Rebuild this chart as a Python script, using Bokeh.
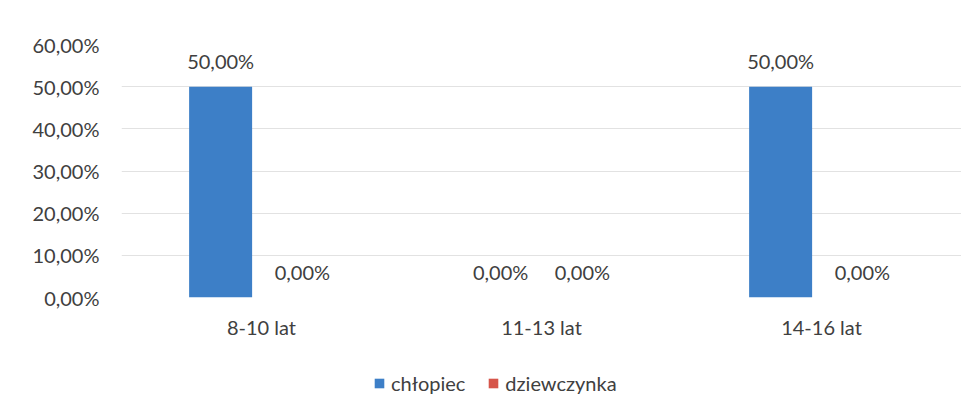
from bokeh.plotting import figure
from bokeh.layouts import column
from bokeh.models import ColumnDataSource, FactorRange, FixedTicker, Legend, LegendItem, Range1d
from bokeh.transform import dodge
from bokeh.core.properties import value
from bokeh.embed import file_html
from bokeh.resources import INLINE

categories = ["8-10 lat", "11-13 lat", "14-16 lat"]
chlopiec = [50.0, 0.0, 50.0]
dziewczynka = [0.0, 0.0, 0.0]
y_ticks = [0, 10, 20, 30, 40, 50, 60]
series_names = ["chłopiec", "dziewczynka"]

def fmt(v):
    return f"{v:.2f}".replace(".", ",") + "%"

src = ColumnDataSource(dict(
    cat=categories,
    ch=chlopiec,
    dz=dziewczynka,
    ch_lbl=[fmt(v) for v in chlopiec],
    dz_lbl=[fmt(v) for v in dziewczynka],
))

FONT = "Lato"
TXT = "#404040"
BLUE = "#3d7fc7"
RED = "#d6554a"
FS = "20px"

p = figure(x_range=FactorRange(*categories), y_range=Range1d(0, 60),
           frame_width=840, frame_height=253,
           output_backend="svg", toolbar_location=None,
           min_border_left=121, min_border_right=0, min_border_top=44, min_border_bottom=50)

p.vbar(x=dodge("cat", -0.146, range=p.x_range), top="ch", width=0.225, source=src,
       fill_color=BLUE, line_color=None)
p.vbar(x=dodge("cat", 0.146, range=p.x_range), top="dz", width=0.225, source=src,
       fill_color=RED, line_color=None)

for col, lbl, off in (("ch", "ch_lbl", -0.146), ("dz", "dz_lbl", 0.146)):
    p.text(x=dodge("cat", off, range=p.x_range), y=col, text=lbl, source=src,
           text_font=value(FONT), text_font_size=FS, text_color=TXT,
           text_align="center", text_baseline="bottom", y_offset=-14)

p.yaxis.ticker = FixedTicker(ticks=y_ticks)
p.yaxis.major_label_overrides = {t: fmt(t) for t in y_ticks}
for ax in (p.xaxis, p.yaxis):
    ax.axis_line_color = None
    ax.major_tick_line_color = None
    ax.minor_tick_line_color = None
    ax.major_label_text_font = FONT
    ax.major_label_text_font_size = FS
    ax.major_label_text_color = TXT
p.yaxis.major_label_standoff = 16
p.xaxis.major_label_standoff = 11

p.xgrid.grid_line_color = None
p.ygrid.grid_line_color = "#e2e2e2"
p.ygrid.grid_line_width = 1
p.outline_line_color = None

# legend strip: a second figure holding hidden copies of the two series
lg = figure(x_range=FactorRange(*categories), y_range=Range1d(0, 60),
            width=961, height=56, output_backend="svg", toolbar_location=None,
            x_axis_type=None, y_axis_type=None,
            min_border_left=0, min_border_right=0, min_border_top=0, min_border_bottom=0)
lg.grid.grid_line_color = None
lg.outline_line_color = None
r1 = lg.vbar(x="cat", top="ch", width=0.2, source=src, fill_color=BLUE, line_color=None, visible=False)
r2 = lg.vbar(x="cat", top="dz", width=0.2, source=src, fill_color=RED, line_color=None, visible=False)

legend = Legend(items=[LegendItem(label=series_names[0], renderers=[r1]),
                       LegendItem(label=series_names[1], renderers=[r2])],
                orientation="horizontal", location=(252, 8),
                label_text_font=FONT, label_text_font_size=FS, label_text_color=TXT,
                glyph_width=12, glyph_height=12, label_standoff=6, spacing=22,
                inactive_fill_alpha=0,
                border_line_color=None, background_fill_alpha=0, margin=0, padding=0)
lg.add_layout(legend)

open("out.html", "w").write(file_html(column(p, lg, spacing=0), INLINE))
